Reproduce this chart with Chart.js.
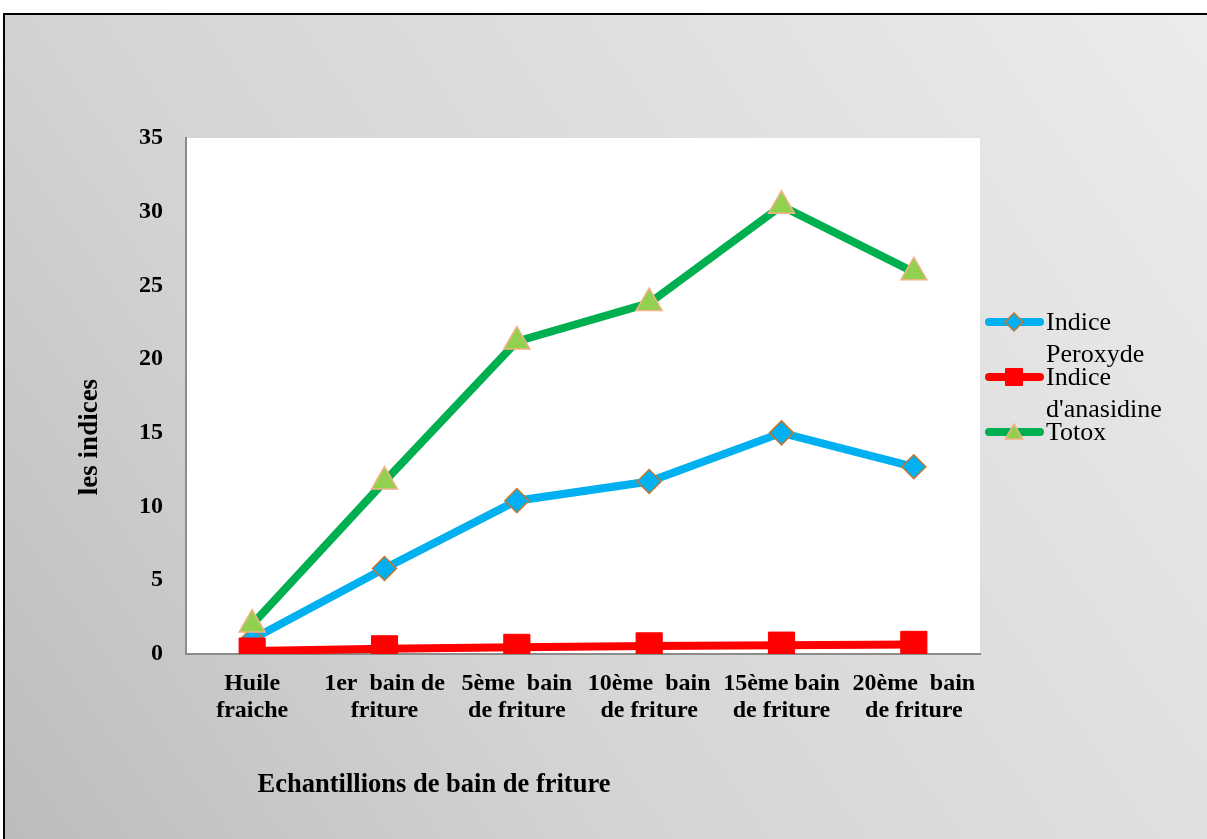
<!DOCTYPE html>
<html>
<head>
<meta charset="utf-8">
<script src="https://cdn.jsdelivr.net/npm/chart.js@4/dist/chart.umd.min.js"></script>
<style>
  html, body { margin: 0; padding: 0; background: #fff; }
  #wrap { width: 1207px; height: 839px; }
</style>
</head>
<body>
<div id="wrap"><canvas id="c" width="1207" height="839"></canvas></div>
<script>
// échantillons (axe X) et indices mesurés
const samples = [
  ['Huile', 'fraiche'],
  ['1er  bain de', 'friture'],
  ['5ème  bain', 'de friture'],
  ['10ème  bain', 'de friture'],
  ['15ème bain', 'de friture'],
  ['20ème  bain', 'de friture']
];
const peroxyde = [1.0, 5.8, 10.4, 11.7, 15.0, 12.7];
const anisidine = [0.2, 0.35, 0.45, 0.55, 0.6, 0.65];
const totox = [2.0, 11.7, 21.2, 23.8, 30.4, 25.9];
const yTicks = [0, 5, 10, 15, 20, 25, 30, 35];

const serif = '"Liberation Serif", "Times New Roman", serif';

// fond dégradé + cadre + zone de tracé blanche
const backgroundPlugin = {
  id: 'fondCadre',
  beforeDraw(chart) {
    const {ctx, width, height, chartArea} = chart;
    ctx.save();
    ctx.fillStyle = '#fff';
    ctx.fillRect(0, 0, width, height);
    const g = ctx.createLinearGradient(0, height, width, 0);
    g.addColorStop(0, '#bcbcbc');
    g.addColorStop(0.35, '#d4d4d4');
    g.addColorStop(1, '#ececec');
    ctx.fillStyle = g;
    ctx.fillRect(3, 13, width, height);
    ctx.strokeStyle = '#000';
    ctx.lineWidth = 2;
    ctx.beginPath();
    ctx.moveTo(4, height);
    ctx.lineTo(4, 14);
    ctx.lineTo(width, 14);
    ctx.stroke();
    ctx.fillStyle = '#fff';
    ctx.fillRect(chartArea.left, chartArea.top, chartArea.right - chartArea.left, chartArea.bottom - chartArea.top);
    ctx.restore();
  },
  afterDraw(chart) {
    const {ctx} = chart;
    ctx.save();
    ctx.fillStyle = '#000';
    ctx.font = 'bold 26.5px ' + serif;
    ctx.textAlign = 'center';
    ctx.textBaseline = 'middle';
    ctx.fillText('Echantillions de bain de friture', 434, 785);
    ctx.font = 'bold 27px ' + serif;
    ctx.translate(90, 437);
    ctx.rotate(-Math.PI / 2);
    ctx.fillText('les indices', 0, 0);
    ctx.restore();
  }
};

// légende à droite, texte renvoyé à la ligne comme dans la figure
const legendPlugin = {
  id: 'legendeDroite',
  afterDraw(chart) {
    const {ctx} = chart;
    const lines = [['Indice', 'Peroxyde'], ['Indice', "d'anasidine"], ['Totox']];
    const markerR = [9, 12, 10];
    ctx.save();
    chart.data.datasets.forEach((ds, i) => {
      const y = 322 + i * 55;
      ctx.strokeStyle = ds.borderColor;
      ctx.lineWidth = 8;
      ctx.lineCap = 'round';
      ctx.beginPath();
      ctx.moveTo(989, y);
      ctx.lineTo(1040, y);
      ctx.stroke();
      ctx.lineCap = 'butt';
      ctx.lineWidth = ds.pointBorderWidth;
      ctx.fillStyle = ds.pointBackgroundColor;
      ctx.strokeStyle = ds.pointBorderColor;
      Chart.helpers.drawPoint(ctx, {
        pointStyle: ds.pointStyle, radius: markerR[i], rotation: 0, borderWidth: ds.pointBorderWidth
      }, 1014, ds.pointStyle === 'triangle' ? y + 2 : y);
      ctx.fillStyle = '#000';
      ctx.font = '26px ' + serif;
      ctx.textAlign = 'left';
      ctx.textBaseline = 'middle';
      lines[i].forEach((t, k) => ctx.fillText(t, 1046, y + 1 + k * 32));
    });
    ctx.restore();
  }
};

new Chart(document.getElementById('c'), {
  type: 'line',
  data: {
    labels: samples,
    datasets: [
      {
        label: 'Indice Peroxyde', data: peroxyde, order: 2,
        borderColor: '#00b0f0', borderWidth: 8, tension: 0,
        pointStyle: 'rectRot', pointRadius: 12, pointHoverRadius: 12,
        pointBackgroundColor: '#00b0f0', pointBorderColor: '#c5772f', pointBorderWidth: 1.5
      },
      {
        label: "Indice d'anasidine", data: anisidine, order: 0,
        borderColor: '#ff0000', borderWidth: 8, tension: 0,
        pointStyle: 'rect', pointRadius: 18.5, pointHoverRadius: 18.5,
        pointBackgroundColor: '#ff0000', pointBorderColor: '#ff0000', pointBorderWidth: 1
      },
      {
        label: 'Totox', data: totox, order: 1,
        borderColor: '#00b050', borderWidth: 8, tension: 0,
        pointStyle: 'triangle', pointRadius: 15, pointHoverRadius: 15,
        pointBackgroundColor: '#92d050', pointBorderColor: '#f4b183', pointBorderWidth: 1.5
      }
    ]
  },
  options: {
    responsive: false,
    animation: false,
    layout: { padding: { top: 138, right: 227, bottom: 0, left: 0 } },
    plugins: { legend: { display: false }, tooltip: { enabled: false } },
    scales: {
      x: {
        offset: true,
        grid: { display: false, drawTicks: false },
        border: { display: true, color: '#8c8c8c', width: 2 },
        ticks: {
          color: '#000', padding: 16, maxRotation: 0, autoSkip: false,
          font: { family: serif, size: 24, weight: 'bold', lineHeight: 1.12 }
        },
        afterFit(scale) { scale.height = 185; }
      },
      y: {
        min: 0, max: 35,
        afterBuildTicks(scale) { scale.ticks = yTicks.map(v => ({ value: v })); },
        grid: { display: false, drawTicks: false },
        border: { display: true, color: '#8c8c8c', width: 2 },
        ticks: {
          color: '#000', padding: 23,
          font: { family: serif, size: 24, weight: 'bold' }
        },
        afterFit(scale) { scale.width = 186; }
      }
    }
  },
  plugins: [backgroundPlugin, legendPlugin]
});
</script>
</body>
</html>
